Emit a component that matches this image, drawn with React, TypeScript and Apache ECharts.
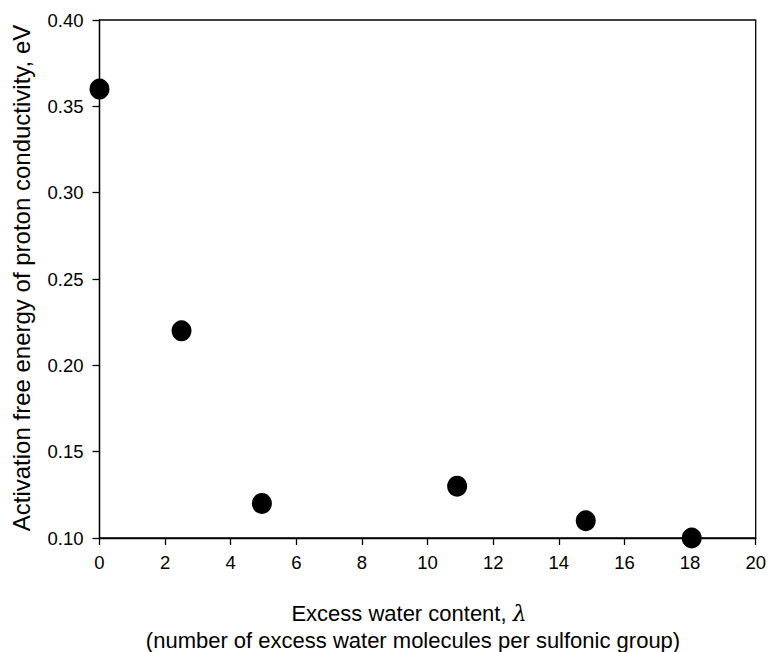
import React, { useEffect, useRef } from "react";
import * as echarts from "echarts";

const xValues = [0, 2.5, 4.95, 10.9, 14.82, 18.05];
const yValues = [0.36, 0.22, 0.12, 0.13, 0.11, 0.1];
const xTicks = [0, 2, 4, 6, 8, 10, 12, 14, 16, 18, 20];
const yTicks = ["0.10", "0.15", "0.20", "0.25", "0.30", "0.35", "0.40"];

const FONT = "Liberation Sans, Arial, sans-serif";

export default function App() {
  const ref = useRef<HTMLDivElement>(null);
  useEffect(() => {
    document.body.style.margin = "0";
    const chart = echarts.init(ref.current!, null, { renderer: "svg" });
    const axisCommon = {
      axisLine: { show: true, lineStyle: { color: "#000", width: 1.3 } },
      axisTick: { show: true, inside: false, length: 7, lineStyle: { color: "#000", width: 1.3 } },
      splitLine: { show: false },
    };
    chart.setOption({
      animation: false,
      backgroundColor: "#fff",
      grid: { left: 99.5, right: 12, top: 20, bottom: 114, show: true, borderColor: "#000", borderWidth: 1.3, backgroundColor: "transparent" },
      xAxis: {
        type: "value",
        min: xTicks[0],
        max: xTicks[xTicks.length - 1],
        interval: 2,
        ...axisCommon,
        axisLabel: { color: "#000", fontSize: 18.5, fontFamily: FONT, margin: 15 },
      },
      yAxis: {
        type: "value",
        min: 0.1,
        max: 0.4,
        interval: 0.05,
        ...axisCommon,
        axisLabel: {
          color: "#000",
          fontSize: 18.5,
          fontFamily: FONT,
          margin: 16,
          formatter: (v: number) => yTicks[Math.round((v - 0.1) / 0.05)] ?? v.toFixed(2),
        },
      },
      series: [
        {
          type: "scatter",
          data: xValues.map((x, i) => [x, yValues[i]]),
          symbol: "circle",
          symbolSize: [20, 21],
          itemStyle: { color: "#000", opacity: 1 },
          clip: false,
        },
      ],
      graphic: [
        {
          type: "text",
          x: 409,
          y: 613,
          style: {
            text: "Excess water content, {i|λ}",
            fill: "#000",
            font: `22px ${FONT}`,
            align: "center",
            verticalAlign: "middle",
            rich: { i: { fontStyle: "italic", fontFamily: "DejaVu Serif, serif", fontSize: 22 } },
          },
        },
        {
          type: "text",
          x: 413,
          y: 640,
          style: {
            text: "(number of excess water molecules per sulfonic group)",
            fill: "#000",
            font: `22px ${FONT}`,
            align: "center",
            verticalAlign: "middle",
          },
        },
        {
          type: "text",
          x: 21,
          y: 278,
          rotation: Math.PI / 2,
          style: {
            text: "Activation free energy of proton conductivity, eV",
            fill: "#000",
            font: `24px ${FONT}`,
            align: "center",
            verticalAlign: "middle",
          },
        },
      ],
    });
    return () => chart.dispose();
  }, []);
  return <div ref={ref} style={{ width: 769, height: 652 }} />;
}
